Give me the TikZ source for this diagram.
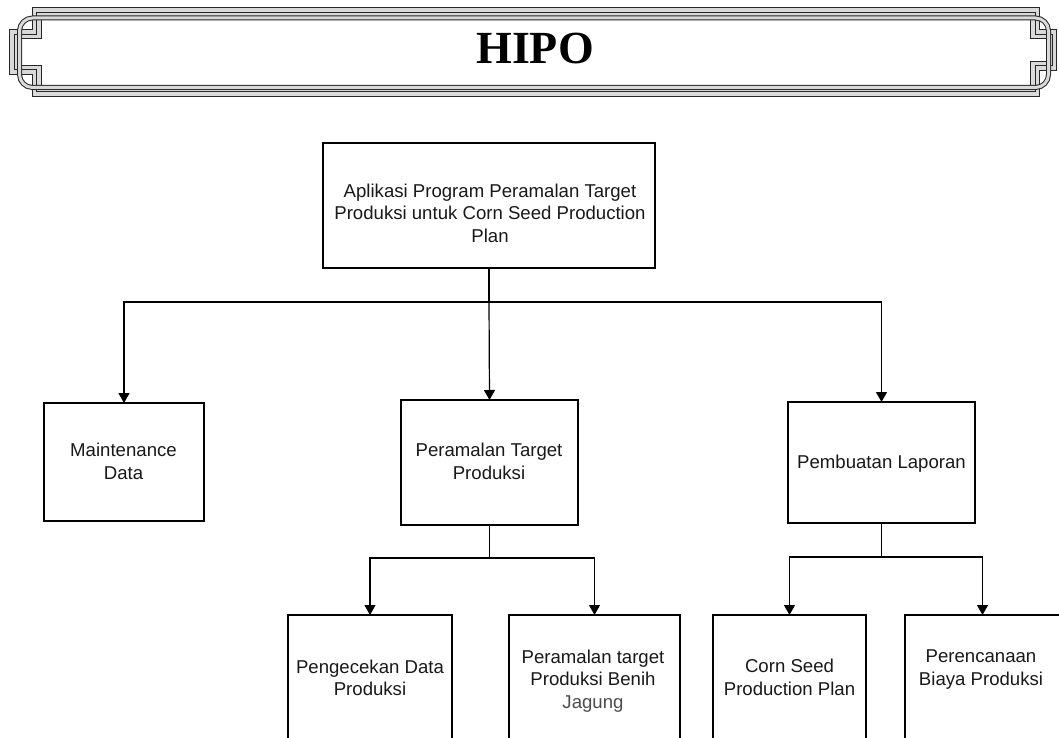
\documentclass[tikz,border=0pt]{standalone}
\usepackage{fontspec}
\setsansfont{Liberation Sans}
\newfontfamily\titlefont{Liberation Serif}
\usetikzlibrary{arrows.meta}

\tikzset{
  box/.style={draw=black, line width=1.2pt, rectangle, inner sep=0pt, outer sep=0pt},
  % multi-line labels are anchored at the baseline of their last line
  lbl/.style={font=\sffamily\fontsize{18.6}{22.5}\selectfont, align=center, anchor=base, inner sep=0pt, text=black!90},
  link/.style={draw=black, line width=1.2pt},
  arrowlink/.style={link, -{Triangle[width=11pt,length=10pt]}},
  bandpath/.style={line join=miter},
}

\begin{document}
\begin{tikzpicture}[x=1pt, y=-1pt]
  \useasboundingbox (0,0) rectangle (1059,738);
  \clip (0,0) rectangle (1059,738);
  \fill[white] (0,0) rectangle (1059,738);

  % title banner: notched triple-line frame
  \def\bannerframe{(36.7,12.3) -- (1035,12.3) -- (1035,34.3) -- (1052.3,34.3) -- (1052.3,66) -- (1035,66) -- (1035,91.7) -- (36.7,91.7) -- (36.7,70) -- (14.3,70) -- (14.3,34.3) -- (36.7,34.3) -- cycle}
  \draw[bandpath, line width=10pt, black!85] \bannerframe;
  \draw[bandpath, line width=8pt, black!15] \bannerframe;
  \draw[bandpath, line width=1pt, black!85] \bannerframe;
  % rounded inner frame
  \draw[line width=1pt, black!85, double=black!15, double distance=3pt, rounded corners=13pt]
    (19.5,18) rectangle (1048.5,87.5);
  \node[font=\titlefont\bfseries\fontsize{46}{52}\selectfont, anchor=base, inner sep=0pt] (title) at (535,64) {HIPO};

  % boxes
  \node[box, minimum width=332pt, minimum height=125pt] (top)    at (489,205.5) {};
  \node[box, minimum width=160pt, minimum height=118pt] (maint)  at (124,462)   {};
  \node[box, minimum width=177pt, minimum height=125pt] (peram)  at (489.5,462.5) {};
  \node[box, minimum width=187pt, minimum height=121pt] (pemb)   at (881.5,462.5) {};
  \node[box, minimum width=164pt, minimum height=145pt] (cek)    at (370,687.5) {};
  \node[box, minimum width=171pt, minimum height=145pt] (target) at (594.5,687.5) {};
  \node[box, minimum width=153pt, minimum height=145pt] (corn)   at (789.5,687.5) {};
  \node[box, minimum width=155pt, minimum height=145pt] (biaya)  at (982.5,687.5) {};

  % labels
  \node[lbl] (topT)    at (490,242)   {Aplikasi Program Peramalan Target\\Produksi untuk Corn Seed Production\\Plan};
  \node[lbl] (maintT)  at (123.5,479) {Maintenance\\Data};
  \node[lbl] (peramT)  at (489,479)   {Peramalan Target\\Produksi};
  \node[lbl] (pembT)   at (881.5,468) {Pembuatan Laporan};
  \node[lbl] (cekT)    at (370,695.5) {Pengecekan Data\\Produksi};
  \node[lbl] (targetT) at (593,708)   {Peramalan target\\Produksi Benih\\{\color{black!70}Jagung}};
  \node[lbl] (cornT)   at (789.5,695) {Corn Seed\\Production Plan};
  \node[lbl] (biayaT)  at (981,685)   {Perencanaan\\Biaya Produksi};

  % connectors
  \coordinate (busA) at (489,302);
  \coordinate (busB) at (489.5,558);
  \coordinate (busC) at (881.5,557);

  \draw[link] (top.south) -- (busA);
  \draw[arrowlink] (busA) -| (maint.north);
  \draw[arrowlink] (busA) -- (peram.north);
  \draw[arrowlink] (busA) -| (pemb.north);

  \draw[link] (peram.south) -- (busB);
  \draw[arrowlink] (busB) -| (cek.north);
  \draw[arrowlink] (busB) -| (target.north);

  \draw[link] (pemb.south) -- (busC);
  \draw[arrowlink] (busC) -| (corn.north);
  \draw[arrowlink] (busC) -| (biaya.north);
\end{tikzpicture}
\end{document}
